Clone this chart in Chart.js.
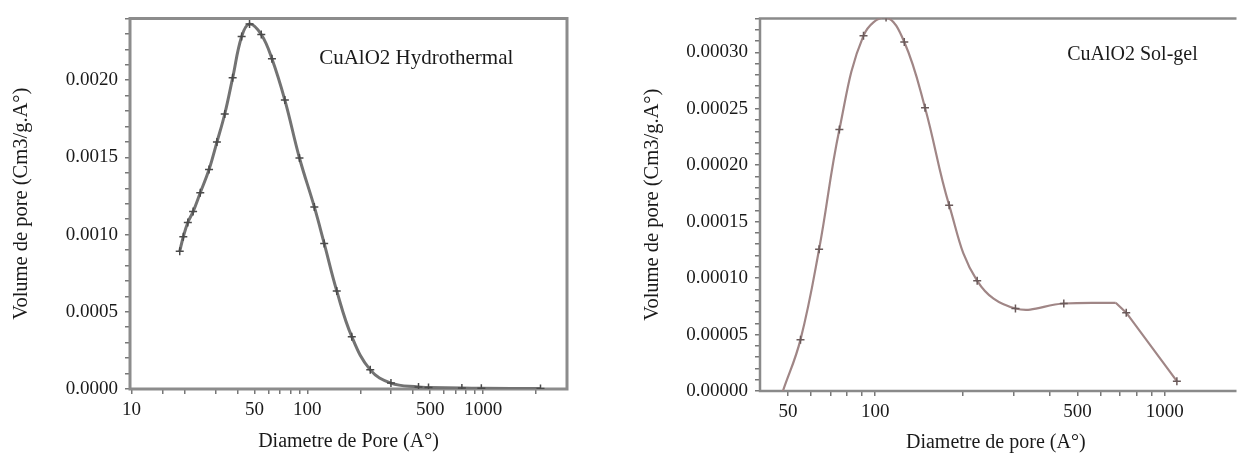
<!DOCTYPE html>
<html><head><meta charset="utf-8">
<script src="https://cdn.jsdelivr.net/npm/chart.js@4.4.0/dist/chart.umd.min.js"></script>
<style>
body{margin:0;background:#fff;width:1237px;height:455px;overflow:hidden;position:relative}
#w1{position:absolute;left:0;top:0;width:610px;height:455px}
#w2{position:absolute;left:620px;top:0;width:617px;height:455px}
</style></head><body>
<div id="w1"><canvas id="c1"></canvas></div>
<div id="w2"><canvas id="c2"></canvas></div>
<script>
// ---- Data: CuAlO2 Hydrothermal ----
const hydroDiameter = [18.8,19.7,20.9,22.4,24.6,27.6,30.6,33.9,37.6,42.3,46.9,54.7,62.9,74.5,90.2,109.6,124.7,147,179,228,299,429,489,757,977,2120];
const hydroVolume = [0.000892,0.000986,0.001078,0.001149,0.001271,0.001421,0.001599,0.001781,0.002015,0.002283,0.002364,0.002296,0.002139,0.001871,0.001496,0.001179,0.000943,0.000635,0.000339,0.000124,0.0000386,0.000013,0.00001,0.000006,0.000005,0.000003];
const hydroXTicks = [10,15,20,30,40,50,60,70,80,90,100,200,300,400,500,600,700,800,900,1000,2000];
const hydroXLabels = [10,50,100,500,1000];

// ---- Data: CuAlO2 Sol-gel ----
const solDiameter = [48,55.2,64,75.2,91.1,109,126,148.6,180,225,305,448,677,736,1101];
const solVolume = [0,0.0000455,0.0001256,0.0002316,0.0003147,0.0003307,0.0003091,0.0002509,0.0001646,0.0000976,0.0000731,0.0000775,0.0000781,0.0000694,0.0000087];
const solKinkIndex = 12; // curve becomes straight segments after this point
const solXTicks = [50,60,70,80,90,100,200,300,400,500,600,700,800,900,1000];
const solXLabels = [50,100,500,1000];

const SERIF = "'Liberation Serif', 'DejaVu Serif', serif";
const TXT = '#1a1a1a';

const framePlugin = {
  id: 'frame',
  beforeDatasetsDraw(chart, args, o) {
    const {ctx, chartArea: a} = chart;
    ctx.save();
    ctx.strokeStyle = o.color; ctx.lineWidth = o.width; ctx.lineJoin = 'miter';
    ctx.beginPath();
    if (o.closed) { ctx.rect(a.left, a.top, a.right - a.left, a.bottom - a.top); }
    else { ctx.moveTo(a.right + 5, a.top); ctx.lineTo(a.left, a.top); ctx.lineTo(a.left, a.bottom); ctx.lineTo(a.right + 5, a.bottom); }
    ctx.stroke();
    ctx.restore();
  }
};
const notePlugin = {
  id: 'note',
  afterDraw(chart, args, o) {
    const {ctx, chartArea: a} = chart;
    ctx.save();
    ctx.font = o.size + 'px ' + SERIF;
    ctx.fillStyle = o.color; ctx.textAlign = 'center'; ctx.textBaseline = 'middle';
    ctx.fillText(o.text, a.left + o.xFrac * (a.right - a.left), a.top + o.dy);
    ctx.restore();
  }
};

function xScale(min, max, ticksArr, labelsArr, titleText, axisHeight) {
  return {
    type: 'logarithmic', position: 'bottom', min, max,
    afterBuildTicks: s => { s.ticks = ticksArr.map(v => ({value: v})); },
    afterFit: s => { s.height = axisHeight; },
    ticks: { autoSkip: false, maxRotation: 0, color: TXT, padding: 5,
      font: {family: SERIF, size: 19},
      callback: v => labelsArr.includes(v) ? String(v) : '' },
    grid: { drawOnChartArea: false, drawTicks: true, tickLength: 5, color: '#777', lineWidth: 1.5 },
    border: { display: false },
    title: { display: true, text: titleText, color: TXT, font: {family: SERIF, size: 20}, padding: {top: 0, bottom: 0} }
  };
}
function yScale(max, step, every, decimals, width, titlePadTop) {
  return {
    type: 'linear', min: 0, max,
    afterFit: s => { s.width = width; },
    ticks: { stepSize: step, maxTicksLimit: 200, autoSkip: false, color: TXT, padding: 7,
      font: {family: SERIF, size: 19},
      callback: v => (Math.round(v / step) % every === 0) ? v.toFixed(decimals) : '' },
    grid: { drawOnChartArea: false, drawTicks: true, tickLength: 5, color: '#777', lineWidth: 1.5 },
    border: { display: false },
    title: { display: true, text: 'Volume de pore (Cm3/g.A°)', color: TXT, font: {family: SERIF, size: 20.5}, padding: {top: titlePadTop, bottom: 0} }
  };
}

new Chart(document.getElementById('c1'), {
  type: 'line',
  data: { datasets: [{
    data: hydroDiameter.map((d, i) => ({x: d, y: hydroVolume[i]})),
    borderColor: '#737373', borderWidth: 3, tension: 0.4, fill: false,
    pointStyle: 'cross', pointRadius: 4, pointBorderColor: '#4a4a4a', pointBorderWidth: 1.5
  }]},
  options: {
    responsive: true, maintainAspectRatio: false, animation: false,
    layout: { padding: {left: 0, top: 15, right: 43, bottom: 1} },
    plugins: { legend: {display: false}, tooltip: {enabled: false},
      frame: {color: '#8c8c8c', width: 3, closed: true},
      note: {text: 'CuAlO2 Hydrothermal', xFrac: 0.655, dy: 40, size: 21, color: TXT} },
    scales: {
      x: xScale(9.8, 3000, hydroXTicks, hydroXLabels, 'Diametre de Pore (A°)', 65),
      y: yScale(0.0024, 0.0001, 5, 4, 130, 9)
    }
  },
  plugins: [framePlugin, notePlugin]
});

const solSmooth = solDiameter.slice(0, solKinkIndex + 1).map((d, i) => ({x: d, y: solVolume[i]}));
const solStraight = solDiameter.slice(solKinkIndex).map((d, i) => ({x: d, y: solVolume[i + solKinkIndex]}));
new Chart(document.getElementById('c2'), {
  type: 'line',
  data: { datasets: [{
    data: solSmooth,
    borderColor: '#a08686', borderWidth: 2.2, tension: 0.4, fill: false,
    pointStyle: 'cross', pointRadius: solSmooth.map((p, i) => (i === 0 || i === solSmooth.length - 1) ? 0 : 4),
    pointBorderColor: '#6a5a5a', pointBorderWidth: 1.5
  }, {
    data: solStraight,
    borderColor: '#a08686', borderWidth: 2.2, tension: 0, fill: false,
    pointStyle: 'cross', pointRadius: solStraight.map((p, i) => i === 0 ? 0 : 4),
    pointBorderColor: '#6a5a5a', pointBorderWidth: 1.5
  }]},
  options: {
    responsive: true, maintainAspectRatio: false, animation: false,
    layout: { padding: {left: 0, top: 12, right: 0, bottom: 0} },
    plugins: { legend: {display: false}, tooltip: {enabled: false},
      frame: {color: '#8a8a8a', width: 2.5, closed: false},
      note: {text: 'CuAlO2 Sol-gel', xFrac: 0.79, dy: 36, size: 20, color: TXT} },
    scales: {
      x: xScale(40, 1700, solXTicks, solXLabels, 'Diametre de pore (A°)', 64),
      y: yScale(0.00033, 0.00001, 5, 5, 140, 20)
    }
  },
  plugins: [framePlugin, notePlugin]
});
</script>
</body></html>
